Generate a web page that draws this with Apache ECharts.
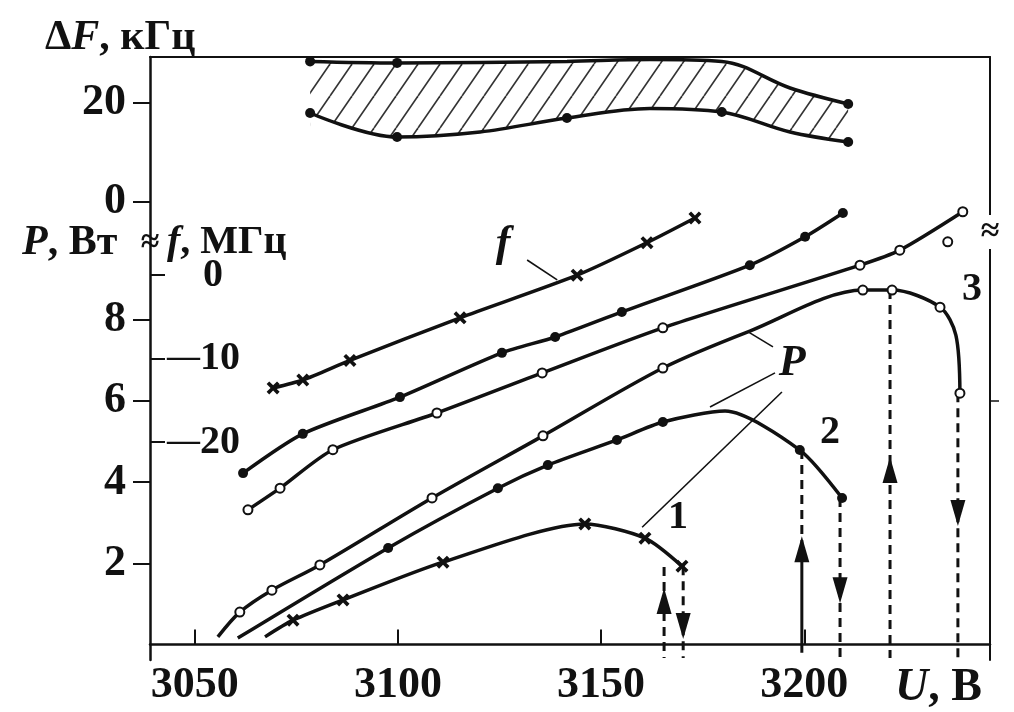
<!DOCTYPE html>
<html><head><meta charset="utf-8">
<script src="https://cdn.jsdelivr.net/npm/echarts@6/dist/echarts.min.js"></script>
<style>html,body{margin:0;padding:0;background:#fff}#c{width:1014px;height:712px}</style>
</head><body><div id="c"></div>
<script>
// ---- tick labels ----
const uTicks = [3050, 3100, 3150, 3200];
const pTicks = [2, 4, 6, 8];
const fTicks = [0, -10, -20];
const dfTicks = [0, 20];

// ---- ΔF band (kHz) ----
const dfU    = [3078.4, 3099.8, 3120.2, 3141.6, 3162.0, 3179.7, 3196.5, 3210.8];
const dfLow  = [17.98, 13.13, 14.14, 16.97, 18.9, 18.18, 14.14, 12.12];
const dfHigh = [28.4, 28.1, 28.2, 28.4, 28.8, 28.4, 23.03, 19.8];
const dfLowMarks  = [[3078.4, 17.98], [3099.8, 13.13], [3141.6, 16.97], [3179.7, 18.18], [3210.8, 12.12]];
const dfHighMarks = [[3078.4, 28.4], [3099.8, 28.1], [3210.8, 19.8]];

// ---- f curves (MHz) ----
const fCross = [[3069.3, -13.5], [3076.6, -12.55], [3088.2, -10.2], [3115.3, -5.1], [3144.1, 0.0], [3161.3, 3.9], [3173.1, 6.85]];
const fDot   = [[3061.9, -23.7], [3076.6, -19.0], [3100.5, -14.6], [3125.6, -9.3], [3138.7, -7.4], [3155.1, -4.4], [3186.6, 1.2], [3200.2, 4.6], [3209.5, 7.45]];
const fCirc  = [[3063.1, -28.1], [3071.0, -25.5], [3084.0, -20.9], [3109.6, -16.5], [3135.5, -11.7], [3165.2, -6.3], [3213.7, 1.2], [3223.5, 3.0], [3239.0, 7.6]];
const fCircStray = [[3235.3, 4.0]];

// ---- P curves (W) ----
const p1 = [[3074.2, 0.6], [3086.5, 1.1], [3111.1, 2.03], [3146.0, 2.97], [3160.8, 2.62], [3169.9, 1.93]];
const p1Bend = [[3067.3, 0.19]];
const p2 = [[3097.6, 2.38], [3124.6, 3.85], [3136.9, 4.42], [3153.9, 5.04], [3165.2, 5.48], [3198.9, 4.79], [3209.3, 3.61]];
const p2Bend = [[3060.6, 0.16], [3180.5, 5.75]];
const p3 = [[3061.1, 0.8], [3069.0, 1.34], [3080.8, 1.96], [3108.4, 3.61], [3135.7, 5.14], [3165.2, 6.81], [3214.4, 8.73], [3221.6, 8.73], [3233.4, 8.31], [3238.3, 6.19]];
const p3Bend = [[3055.7, 0.19], [3186.6, 7.72], [3237.3, 7.62]];

// ---- jumps (U, P top, P bottom) and arrows ----
const jumpDashed = [[3165.5, 1.91, -0.33], [3170.2, 1.93, -0.33], [3199.4, 4.79, 2.57], [3208.8, 3.61, -0.33], [3221.1, 8.73, -0.33], [3237.8, 6.19, -0.33]];
const jumpSolid  = [[3199.4, 2.57, -0.2]];
const arrowUp    = [[3165.5, 1.07], [3199.4, 2.35], [3221.1, 4.30]];
const arrowDown  = [[3170.2, 0.46], [3208.8, 1.34], [3237.8, 3.24]];

// ---- annotations ----
const leaders = [
  [[3131.8, 9.47], [3139.2, 8.98]],
  [[3192.3, 7.33], [3186.2, 7.70]],
  [[3192.8, 6.69], [3176.8, 5.85]],
  [[3194.5, 6.22], [3160.1, 2.89]]
];
const annText = ['f', 'P', '1', '2', '3'];
const annPos  = [[3125.9, 9.84], [3197.0, 6.93], [3168.9, 3.12], [3206.3, 5.23], [3241.3, 8.73]];

const K = '#111';
const SERIF = '"Liberation Serif", "DejaVu Serif", serif';
const CROSS = 'path://M2,0L5,3L8,0L10,2L7,5L10,8L8,10L5,7L2,10L0,8L3,5L0,2Z';

function hatch() {
  const c = document.createElement('canvas');
  const w = 22, h = 32;
  c.width = w; c.height = h;
  const g = c.getContext('2d');
  g.fillStyle = '#fff'; g.fillRect(0, 0, w, h);
  g.strokeStyle = '#333'; g.lineWidth = 1.6;
  for (let k = -1; k <= 1; k++) {
    g.beginPath(); g.moveTo(k * w, h); g.lineTo(k * w + w, 0); g.stroke();
  }
  return c;
}

const path = (m, b) => m.concat(b || []).sort((a, c) => a[0] - c[0]);

function curve(pts, yi, sm) {
  return { type: 'line', xAxisIndex: 0, yAxisIndex: yi, data: pts, smooth: sm || 0.25,
    symbol: 'none', lineStyle: { color: K, width: 3.5 }, z: 3, silent: true };
}
function marks(pts, yi, sym, size) {
  const empty = sym === 'emptyCircle';
  return { type: 'scatter', xAxisIndex: 0, yAxisIndex: yi, data: pts, symbol: sym, symbolSize: size,
    itemStyle: { color: K, borderColor: K, borderWidth: empty ? 2.2 : 0, opacity: 1 }, z: 6, silent: true };
}

const series = [];
// ΔF band: hatched area under upper curve, white area under lower curve
series.push({ type: 'line', yAxisIndex: 2, data: dfU.map((u, i) => [u, dfHigh[i]]), smooth: 0.35,
  symbol: 'none', lineStyle: { color: K, width: 3.5 },
  areaStyle: { color: { image: hatch(), repeat: 'repeat' }, opacity: 1, origin: 11.6 }, z: 2, silent: true });
series.push({ type: 'line', yAxisIndex: 2, data: dfU.map((u, i) => [u, dfLow[i]]), smooth: 0.35,
  symbol: 'none', lineStyle: { color: K, width: 3.5 },
  areaStyle: { color: '#fff', opacity: 1, origin: 8 }, z: 3, silent: true });
series.push(marks(dfLowMarks, 2, 'circle', 10));
series.push(marks(dfHighMarks, 2, 'circle', 10));

// f curves
series.push(curve(fCross, 1)); series.push(marks(fCross, 1, CROSS, 13));
series.push(curve(fDot, 1));   series.push(marks(fDot, 1, 'circle', 10));
series.push(curve(fCirc, 1));  series.push(marks(fCirc, 1, 'emptyCircle', 9));
series.push(marks(fCircStray, 1, 'emptyCircle', 9));

// P curves
series.push(curve(path(p1, p1Bend), 0)); series.push(marks(p1, 0, CROSS, 13));
series.push(curve(path(p2, p2Bend), 0)); series.push(marks(p2, 0, 'circle', 10));
series.push(curve(path(p3, p3Bend), 0, 0.3)); series.push(marks(p3, 0, 'emptyCircle', 9));

// jumps
jumpDashed.forEach(j => series.push({ type: 'line', yAxisIndex: 0, data: [[j[0], j[1]], [j[0], j[2]]],
  symbol: 'none', lineStyle: { color: K, width: 3, type: [9, 6] }, z: 2, silent: true }));
jumpSolid.forEach(j => series.push({ type: 'line', yAxisIndex: 0, data: [[j[0], j[1]], [j[0], j[2]]],
  symbol: 'none', lineStyle: { color: K, width: 3 }, z: 2, silent: true }));
series.push({ type: 'scatter', yAxisIndex: 0, data: arrowUp, symbol: 'triangle', symbolSize: [15, 26],
  itemStyle: { color: K, opacity: 1 }, z: 6, silent: true });
series.push({ type: 'scatter', yAxisIndex: 0, data: arrowDown, symbol: 'triangle', symbolSize: [15, 26],
  symbolRotate: 180, itemStyle: { color: K, opacity: 1 }, z: 6, silent: true });

// leader lines
leaders.forEach(l => series.push({ type: 'line', yAxisIndex: 0, data: l, symbol: 'none',
  lineStyle: { color: K, width: 1.6 }, z: 2, silent: true }));

// annotation labels
series.push({ type: 'scatter', yAxisIndex: 0, data: annPos, symbolSize: 1,
  itemStyle: { color: 'rgba(0,0,0,0)', opacity: 1 }, silent: true, z: 7,
  label: { show: true, position: 'inside', color: K, opacity: 1, fontFamily: SERIF, fontSize: 40, fontWeight: 'bold',
    formatter: p => { const t = annText[p.dataIndex]; return /[0-9]/.test(t) ? t : '{i|' + t + '}'; },
    rich: { i: { fontStyle: 'italic', fontWeight: 'bold', fontSize: 44, fontFamily: SERIF, color: K } } } });

const numLabel = { color: K, fontFamily: SERIF, fontSize: 44, fontWeight: 'bold' };

const option = {
  animation: false,
  backgroundColor: '#fff',
  grid: { left: 150, right: 24, top: 57, bottom: 52, outerBoundsMode: 'none', containLabel: false },
  xAxis: [
    { type: 'value', position: 'bottom', min: 3039, max: 3245.7,
      axisLine: { show: true, lineStyle: { color: K, width: 2.5 } },
      axisTick: { show: true, inside: true, length: 15, customValues: uTicks, lineStyle: { color: K, width: 2 } },
      axisLabel: Object.assign({ customValues: uTicks, margin: 4, formatter: v => String(v) }, numLabel),
      splitLine: { show: false } },
    { type: 'value', position: 'top', min: 3039, max: 3245.7,
      axisLine: { show: true, onZero: false, lineStyle: { color: K, width: 2 } },
      axisTick: { show: false }, axisLabel: { show: false }, splitLine: { show: false } }
  ],
  yAxis: [
    { type: 'value', position: 'left', min: -0.38, max: 14.47,
      axisLine: { show: true, onZero: false, lineStyle: { color: K, width: 2.5 } },
      axisTick: { show: true, length: 17, customValues: pTicks, lineStyle: { color: K, width: 2 } },
      axisLabel: Object.assign({ customValues: pTicks, margin: 24 }, numLabel),
      splitLine: { show: false } },
    { type: 'value', position: 'left', min: -46.08, max: 26.13,
      axisLine: { show: false },
      axisTick: { show: true, inside: true, length: 15, customValues: fTicks, lineStyle: { color: K, width: 2 } },
      axisLabel: { show: true, inside: true, margin: 17, customValues: fTicks, color: K, fontFamily: SERIF,
        formatter: v => v === 0 ? '{z|0}' : '{d|\u2014}{n|' + Math.abs(v) + '}',
        rich: { z: { fontSize: 40, fontWeight: 'bold', fontFamily: SERIF, color: K, padding: [0, 0, 0, 36] },
                d: { fontSize: 33, fontWeight: 'bold', fontFamily: SERIF, color: K },
                n: { fontSize: 40, fontWeight: 'bold', fontFamily: SERIF, color: K } } },
      splitLine: { show: false } },
    { type: 'value', position: 'left', min: -92.53, max: 29.29,
      axisLine: { show: false },
      axisTick: { show: true, length: 17, customValues: dfTicks, lineStyle: { color: K, width: 2 } },
      axisLabel: Object.assign({ customValues: dfTicks, margin: 24 }, numLabel),
      splitLine: { show: false } },
    { type: 'value', position: 'right', min: -0.38, max: 14.47,
      axisLine: { show: true, onZero: false, lineStyle: { color: K, width: 2 } },
      axisTick: { show: true, length: 9, customValues: [6], lineStyle: { color: K, width: 1.5 } },
      axisLabel: { show: false }, splitLine: { show: false } }
  ],
  graphic: [
    { type: 'text', x: 45, y: 38, z: 100, style: { text: '{b|\u0394}{i|F}{b|, \u043a\u0413\u0446}', verticalAlign: 'middle',
      rich: { b: { fontSize: 42, fontWeight: 'bold', fontFamily: SERIF, fill: K },
              i: { fontSize: 42, fontWeight: 'bold', fontStyle: 'italic', fontFamily: SERIF, fill: K } } } },
    { type: 'text', x: 22, y: 243, z: 100, style: { text: '{i|P}{b|, \u0412\u0442}', verticalAlign: 'middle',
      rich: { b: { fontSize: 42, fontWeight: 'bold', fontFamily: SERIF, fill: K },
              i: { fontSize: 42, fontWeight: 'bold', fontStyle: 'italic', fontFamily: SERIF, fill: K } } } },
    { type: 'text', x: 150, y: 243, z: 100, style: { text: '\u2248', fontSize: 34, fontWeight: 'bold', fontFamily: SERIF,
      fill: K, align: 'center', verticalAlign: 'middle' } },
    { type: 'text', x: 167, y: 243, z: 100, style: { text: '{i|f}{b|, \u041c\u0413\u0446}', verticalAlign: 'middle',
      rich: { b: { fontSize: 40, fontWeight: 'bold', fontFamily: SERIF, fill: K },
              i: { fontSize: 40, fontWeight: 'bold', fontStyle: 'italic', fontFamily: SERIF, fill: K } } } },
    { type: 'text', x: 990, y: 232, z: 100, style: { text: '\u2248', fontSize: 34, fontWeight: 'bold', fontFamily: SERIF,
      fill: K, align: 'center', verticalAlign: 'middle', backgroundColor: '#fff', padding: [0, 1] } },
    { type: 'text', x: 895, y: 688, z: 100, style: { text: '{i|U}{b|, \u0412}', verticalAlign: 'middle',
      rich: { b: { fontSize: 46, fontWeight: 'bold', fontFamily: SERIF, fill: K },
              i: { fontSize: 46, fontWeight: 'bold', fontStyle: 'italic', fontFamily: SERIF, fill: K } } } }
  ],
  series: series
};

const chart = echarts.init(document.getElementById('c'), null, { renderer: 'canvas' });
chart.setOption(option);
</script>
</body></html>
